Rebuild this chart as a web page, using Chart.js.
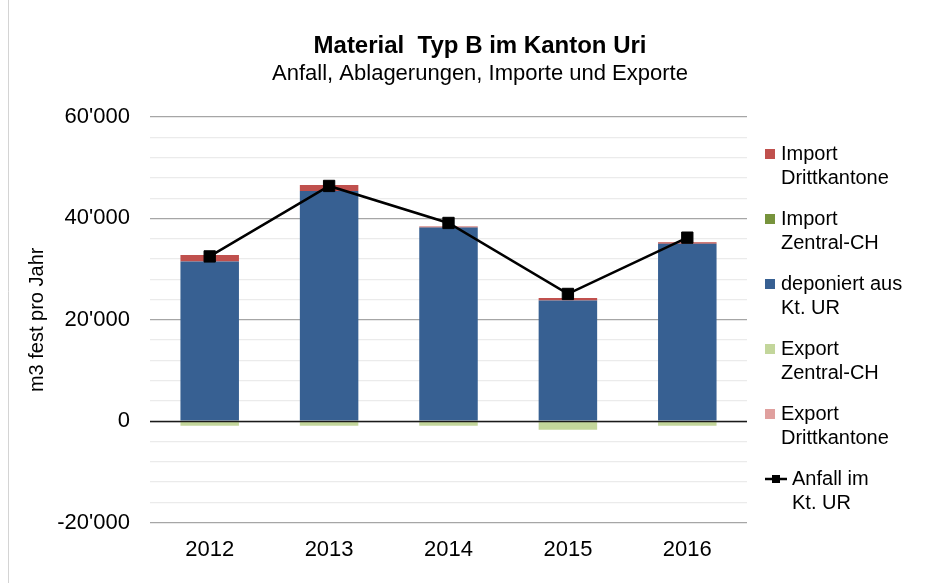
<!DOCTYPE html>
<html>
<head>
<meta charset="utf-8">
<script src="https://cdn.jsdelivr.net/npm/chart.js@4"></script>
<style>
  html, body { margin: 0; padding: 0; background: #fff; }
  #wrap { width: 938px; height: 583px; position: relative; }
</style>
</head>
<body>
<div id="wrap"><canvas id="chart" width="938" height="583"></canvas></div>
<script>
const years = ['2012', '2013', '2014', '2015', '2016'];
const importDritt = [1300, 1200, 200, 500, 300];
const importZentral = [0, 0, 0, 0, 0];
const deponiert = [31500, 45400, 38200, 23800, 35000];
const exportZentral = [-900, -900, -900, -1700, -900];
const exportDritt = [0, 0, 0, 0, 0];
const anfall = [32500, 46400, 39100, 25100, 36200];

const FONT = "'Liberation Sans', Arial, sans-serif";

function fmt(v) {
    const s = Math.abs(v).toString().replace(/\B(?=(\d{3})+(?!\d))/g, "'");
    return (v < 0 ? '-' : '') + s;
}

// legend order as in the picture
const legendItems = [
    { lines: ['Import', 'Drittkantone'], color: '#c0504d' },
    { lines: ['Import', 'Zentral-CH'], color: '#77933c' },
    { lines: ['deponiert aus', 'Kt. UR'], color: '#376092' },
    { lines: ['Export', 'Zentral-CH'], color: '#c3d69b' },
    { lines: ['Export', 'Drittkantone'], color: '#e0a09e' },
    { lines: ['Anfall im', 'Kt. UR'], color: '#000', line: true }
];

const decor = {
    id: 'decor',
    beforeDraw(chart) {
        const c = chart.ctx;
        c.save();
        c.fillStyle = '#fff';
        c.fillRect(0, 0, chart.width, chart.height);
        c.strokeStyle = '#d4d4d4';
        c.lineWidth = 1;
        c.beginPath();
        c.moveTo(8.5, 0);
        c.lineTo(8.5, chart.height);
        c.stroke();
        c.restore();
    },
    afterDatasetsDraw(chart) {
        const c = chart.ctx;
        const y0 = Math.round(chart.scales.y.getPixelForValue(0)) + 0.5;
        c.save();
        c.strokeStyle = '#1a1a1a';
        c.lineWidth = 1.5;
        c.beginPath();
        c.moveTo(chart.chartArea.left, y0);
        c.lineTo(chart.chartArea.right, y0);
        c.stroke();
        c.restore();
    },
    afterDraw(chart) {
        const c = chart.ctx;
        c.save();
        c.fillStyle = '#000';
        c.textAlign = 'center';
        c.textBaseline = 'middle';
        c.font = 'bold 24px ' + FONT;
        c.fillText('Material  Typ B im Kanton Uri', 480, 46);
        c.font = '22px ' + FONT;
        c.fillText('Anfall, Ablagerungen, Importe und Exporte', 480, 74);

        // legend
        c.textAlign = 'left';
        c.font = '20px ' + FONT;
        legendItems.forEach((it, i) => {
            const y = 154 + i * 65;
            if (it.line) {
                c.strokeStyle = '#000';
                c.lineWidth = 2.5;
                c.beginPath();
                c.moveTo(765, y);
                c.lineTo(787, y);
                c.stroke();
                c.fillRect(772, y - 4, 8, 8);
                c.fillText(it.lines[0], 792, y);
                c.fillText(it.lines[1], 792, y + 24);
            } else {
                c.fillStyle = it.color;
                c.fillRect(765, y - 5, 10, 10);
                c.fillStyle = '#000';
                c.fillText(it.lines[0], 781, y);
                c.fillText(it.lines[1], 781, y + 24);
            }
        });
        c.restore();
    }
};

const ctx = document.getElementById('chart').getContext('2d');
const chart = new Chart(ctx, {
    data: {
        labels: years,
        datasets: [
            { type: 'bar', label: 'deponiert aus Kt. UR', data: deponiert, backgroundColor: '#376092', stack: 'a', order: 2 },
            { type: 'bar', label: 'Import Zentral-CH', data: importZentral, backgroundColor: '#77933c', stack: 'a', order: 2 },
            { type: 'bar', label: 'Import Drittkantone', data: importDritt, backgroundColor: '#c0504d', stack: 'a', order: 2 },
            { type: 'bar', label: 'Export Zentral-CH', data: exportZentral, backgroundColor: '#c3d69b', stack: 'a', order: 2 },
            { type: 'bar', label: 'Export Drittkantone', data: exportDritt, backgroundColor: '#e0a09e', stack: 'a', order: 2 },
            {
                type: 'line', label: 'Anfall im Kt. UR', data: anfall, stack: 'line', order: 0,
                borderColor: '#000', backgroundColor: '#000', borderWidth: 2.5,
                pointStyle: 'rect', pointRadius: 8, pointBorderWidth: 1, tension: 0
            }
        ]
    },
    options: {
        responsive: false,
        animation: false,
        layout: { padding: { left: 21, right: 191, top: 117, bottom: 6 } },
        datasets: { bar: { barPercentage: 0.49, categoryPercentage: 1 } },
        plugins: {
            legend: { display: false },
            tooltip: { enabled: false }
        },
        scales: {
            x: {
                stacked: true,
                grid: { display: false, drawTicks: false },
                border: { display: false },
                ticks: { color: '#000', font: { family: FONT, size: 22 }, padding: 14 }
            },
            y: {
                stacked: true,
                min: -20000,
                max: 60000,
                afterFit(scale) { scale.width = 129; },
                border: { display: false },
                grid: {
                    drawTicks: false,
                    color: c => c.tick.value % 20000 === 0 ? '#a6a6a6' : '#ebebeb',
                    lineWidth: 1.2
                },
                ticks: {
                    stepSize: 4000,
                    autoSkip: false,
                    padding: 20,
                    color: '#000',
                    font: { family: FONT, size: 22 },
                    callback: v => v % 20000 === 0 ? fmt(v) : ''
                },
                title: {
                    display: true,
                    text: 'm3 fest pro Jahr',
                    color: '#000',
                    font: { family: FONT, size: 20 }
                }
            }
        }
    },
    plugins: [decor]
});
</script>
</body>
</html>
